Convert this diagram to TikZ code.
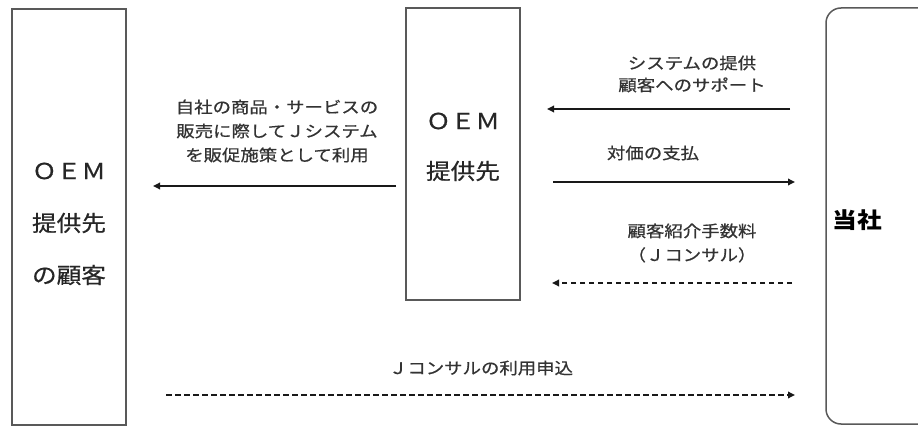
\documentclass[tikz,border=0pt]{standalone}
\usepackage{fontspec}
\newfontfamily\jp{Noto Sans CJK JP}[FakeBold=0.6]
\newfontfamily\jpb{Noto Sans CJK JP}
\usetikzlibrary{arrows.meta}
\begin{document}
\begin{tikzpicture}[x=1pt,y=-1pt,
  box/.style={draw=black!65,line width=1.5pt,fill=white,inner sep=0pt},
  boxtxt/.style={font=\jp\fontsize{22}{26}\selectfont,text=black!85,xscale=1.12,inner sep=0pt},
  lbl/.style={font=\jp\fontsize{16}{24}\selectfont,text=black!80,xscale=1.15,align=center,inner sep=0pt},
  arr/.style={-{Triangle[length=7pt,width=6.5pt]},line width=1.7pt,black!90},
  darr/.style={arr,dash pattern=on 5.5pt off 3.5pt}]
\clip (0,0) rectangle (918,430);
\fill[white] (0,0) rectangle (918,430);
% boxes
\node[box,minimum width=114pt,minimum height=416pt] (L) at (69,217) {};
\node[box,minimum width=114pt,minimum height=292pt] (M) at (463,154) {};
\node[box,rounded corners=15pt,minimum width=140pt,minimum height=416pt] (R) at (896,216) {};
% box texts
\node[boxtxt] (L1) at (69,171) {ＯＥＭ};
\node[boxtxt] (L2) at (69,223) {提供先};
\node[boxtxt] (L3) at (69,275) {の顧客};
\node[boxtxt] (M1) at (463,121) {ＯＥＭ};
\node[boxtxt] (M2) at (463,171) {提供先};
\node[boxtxt,font=\jpb\bfseries\fontsize{22}{26}\selectfont,text=black] (R1) at (857,220) {当社};
% coordinates
\coordinate (a1s) at (396,186); \coordinate (a1e) at (153,186);
\coordinate (a2s) at (790,109); \coordinate (a2e) at (547,109);
\coordinate (a3s) at (553,182); \coordinate (a3e) at (795,182);
\coordinate (a4s) at (792,283); \coordinate (a4e) at (552,283);
\coordinate (a5s) at (166,395); \coordinate (a5e) at (795,395);
% arrows
\draw[arr] (a1s) -- (a1e);
\draw[arr] (a2s) -- (a2e);
\draw[arr] (a3s) -- (a3e);
\draw[darr] (a4s) -- (a4e);
\draw[darr] (a5s) -- (a5e);
% labels
\node[lbl] (t1) at (277,131) {自社の商品・サービスの\\販売に際してＪシステム\\を販促施策として利用};
\node[lbl,font=\jp\fontsize{16}{22}\selectfont] (t2) at (692,74) {システムの提供\\顧客へのサポート};
\node[lbl] (t3) at (653,153) {対価の支払};
\node[lbl] (t4) at (692,243) {顧客紹介手数料\\（Ｊコンサル）};
\node[lbl] (t5) at (481,368) {Ｊコンサルの利用申込};
\end{tikzpicture}
\end{document}
